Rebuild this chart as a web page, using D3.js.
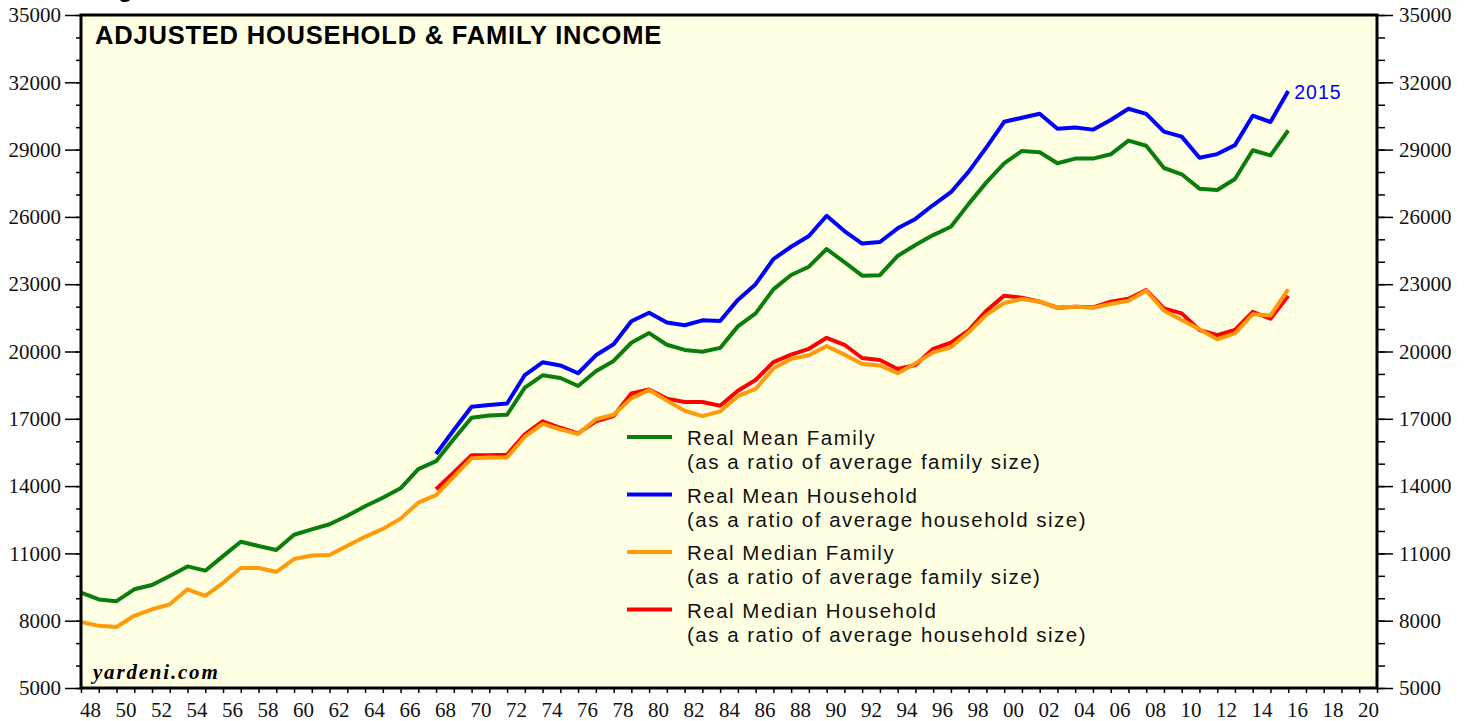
<!DOCTYPE html>
<html>
<head>
<meta charset="utf-8">
<script src="https://cdn.jsdelivr.net/npm/d3@7"></script>
<style>
  body { margin: 0; background: #ffffff; }
  svg { display: block; }
</style>
</head>
<body>
<div id="chart"><svg></svg></div>
<script>
// years for the two long series (1947-2015) and the two short ones (1967-2015)
var yearsLong = d3.range(1947, 2016);
var yearsShort = d3.range(1967, 2016);

// Real Mean Family (as a ratio of average family size)
var meanFamily = [9250, 8950, 8870, 9400, 9590, 9990, 10420, 10230, 10880, 11520,
    11330, 11150, 11830, 12070, 12300, 12680, 13100, 13480, 13900, 14760,
    15110, 16100, 17050, 17150, 17180, 18390, 18940, 18820, 18460, 19120,
    19580, 20390, 20820, 20300, 20070, 19990, 20160, 21120, 21700, 22770,
    23410, 23780, 24570, 23980, 23380, 23400, 24260, 24750, 25190, 25560,
    26580, 27540, 28390, 28940, 28880, 28390, 28600, 28600, 28790, 29400,
    29170, 28180, 27900, 27260, 27200, 27690, 28970, 28740, 29850];

// Real Mean Household (as a ratio of average household size)
var meanHousehold = [15430, 16500, 17540, 17610, 17680, 18950, 19520, 19380, 19030, 19830,
    20320, 21350, 21730, 21290, 21170, 21390, 21360, 22300, 23000, 24120,
    24670, 25150, 26050, 25370, 24810, 24880, 25490, 25910, 26530, 27100,
    28020, 29100, 30240, 30420, 30600, 29930, 29990, 29890, 30320, 30820,
    30590, 29800, 29580, 28640, 28800, 29200, 30510, 30230, 31610];

// Real Median Family (as a ratio of average family size)
var medianFamily = [7940, 7770, 7720, 8220, 8510, 8730, 9400, 9110, 9690, 10350,
    10350, 10180, 10750, 10910, 10930, 11340, 11740, 12090, 12550, 13260,
    13600, 14420, 15240, 15270, 15280, 16200, 16770, 16530, 16320, 16980,
    17180, 17910, 18280, 17810, 17360, 17120, 17330, 18010, 18330, 19250,
    19670, 19830, 20240, 19860, 19440, 19380, 19030, 19470, 19960, 20190,
    20860, 21630, 22160, 22340, 22220, 21950, 22000, 21950, 22120, 22260,
    22710, 21820, 21400, 20990, 20540, 20810, 21660, 21610, 22770];

// Real Median Household (as a ratio of average household size)
var medianHousehold = [13860, 14610, 15380, 15380, 15400, 16310, 16890, 16600, 16350, 16890,
    17120, 18130, 18310, 17900, 17750, 17750, 17580, 18250, 18730, 19530,
    19860, 20120, 20610, 20300, 19710, 19620, 19220, 19400, 20120, 20390,
    20940, 21820, 22490, 22400, 22220, 21950, 22000, 21970, 22220, 22350,
    22740, 21920, 21700, 20960, 20730, 20960, 21770, 21460, 22480];

var legendLabels = [
    ["Real Mean Family", "(as a ratio of average family size)"],
    ["Real Mean Household", "(as a ratio of average household size)"],
    ["Real Median Family", "(as a ratio of average family size)"],
    ["Real Median Household", "(as a ratio of average household size)"]
];
var yTickValues = [5000, 8000, 11000, 14000, 17000, 20000, 23000, 26000, 29000, 32000, 35000];

var width = 1470, height = 721;
var margin = {top: 15, right: 93, bottom: 33, left: 81};
var plotW = width - margin.left - margin.right;
var plotH = height - margin.top - margin.bottom;

var svg = d3.select("#chart svg").attr("width", width).attr("height", height);
var g = svg.append("g").attr("transform", "translate(" + margin.left + "," + margin.top + ")");

// tick marks at year boundaries; a year's value sits at the end of that year
var x = d3.scaleLinear().domain([1948, 2021]).range([0, plotW]);
var y = d3.scaleLinear().domain([5000, 35000]).range([plotH, 0]);

g.append("rect")
    .attr("width", plotW).attr("height", plotH)
    .style("fill", "#ffffe4");

g.append("clipPath").attr("id", "clip")
    .append("rect").attr("width", plotW).attr("height", plotH);

var serif = "'Liberation Serif', 'Times New Roman', serif";
var sans = "'Liberation Sans', Arial, Helvetica, sans-serif";

// left axis
var yLeftMinor = g.append("g").call(d3.axisLeft(y).tickValues(d3.range(5000, 35001, 1000)).tickSize(5).tickFormat(""));
var yLeft = g.append("g").call(d3.axisLeft(y).tickValues(yTickValues).tickSize(16).tickPadding(4).tickFormat(d3.format("d")));
// right axis
var yRightMinor = g.append("g").attr("transform", "translate(" + plotW + ",0)")
    .call(d3.axisRight(y).tickValues(d3.range(5000, 35001, 1000)).tickSize(8).tickFormat(""));
var yRight = g.append("g").attr("transform", "translate(" + plotW + ",0)")
    .call(d3.axisRight(y).tickValues(yTickValues).tickSize(16).tickPadding(6).tickFormat(d3.format("d")));
// bottom axis: yearly ticks, labels every other year centred inside the year
var xTicks = g.append("g").attr("transform", "translate(0," + plotH + ")")
    .call(d3.axisBottom(x).tickValues(d3.range(1948, 2022)).tickSize(5).tickFormat(""));
var xLabels = g.append("g").attr("transform", "translate(0," + plotH + ")")
    .call(d3.axisBottom(x).tickValues(d3.range(1948, 2021, 2).map(function(d) { return d + 0.5; }))
        .tickSize(0).tickPadding(14)
        .tickFormat(function(d) { return d3.format("02d")(Math.floor(d) % 100); }));

[yLeftMinor, yLeft, yRightMinor, yRight, xTicks, xLabels].forEach(function(a) {
    a.select(".domain").remove();
    a.selectAll("line").style("stroke", "#000").style("stroke-width", 1.5);
    a.selectAll("text").style("font-family", serif).style("font-size", "21px").style("fill", "#111");
});
xLabels.selectAll("text").attr("dy", "0.71em");

// the series
var series = [
    {years: yearsLong, values: meanFamily, color: "#0a7d0a"},
    {years: yearsShort, values: meanHousehold, color: "#0000ff"},
    {years: yearsShort, values: medianHousehold, color: "#ff0000"},
    {years: yearsLong, values: medianFamily, color: "#ff9b0a"}
];

var line = d3.line()
    .x(function(d) { return x(d[0] + 1); })
    .y(function(d) { return y(d[1]); });

var lines = g.append("g").attr("clip-path", "url(#clip)");
series.forEach(function(s) {
    lines.append("path")
        .datum(d3.zip(s.years, s.values))
        .attr("d", line)
        .style("fill", "none")
        .style("stroke", s.color)
        .style("stroke-width", 4)
        .style("stroke-linejoin", "round");
});

// last point label
g.append("text")
    .attr("x", x(yearsShort[yearsShort.length - 1] + 1) + 6)
    .attr("y", y(meanHousehold[meanHousehold.length - 1]) + 8)
    .text("2015")
    .style("font-family", sans).style("font-size", "19.5px").style("letter-spacing", "1px").style("fill", "#0000ff");

// frame
g.append("rect")
    .attr("width", plotW).attr("height", plotH)
    .style("fill", "none").style("stroke", "#000").style("stroke-width", 3);

// title
g.append("text")
    .attr("x", 14).attr("y", 29)
    .text("ADJUSTED HOUSEHOLD & FAMILY INCOME")
    .style("font-family", sans).style("font-weight", "bold").style("font-size", "25.5px")
    .style("letter-spacing", "0.8px").style("fill", "#000");

// cut-off heading above the chart
svg.append("text")
    .attr("x", 118).attr("y", -3)
    .text("g")
    .style("font-family", sans).style("font-weight", "bold").style("font-size", "24px");

g.append("text")
    .attr("x", 12).attr("y", 664)
    .text("yardeni.com")
    .style("font-family", serif).style("font-weight", "bold").style("font-style", "italic")
    .style("font-size", "21px").style("letter-spacing", "1.8px").style("fill", "#000");

// legend
var legendColors = ["#0a7d0a", "#0000ff", "#ff9b0a", "#ff0000"];
var legend = g.append("g").attr("transform", "translate(546,422)");
legendLabels.forEach(function(lbl, i) {
    var row = legend.append("g").attr("transform", "translate(0," + (i * 57.5) + ")");
    row.append("line")
        .attr("x1", 0).attr("x2", 45).attr("y1", 0).attr("y2", 0)
        .style("stroke", legendColors[i]).style("stroke-width", 4);
    row.append("text").attr("x", 60).attr("y", 8).text(lbl[0])
        .style("font-family", sans).style("font-size", "20.5px").style("letter-spacing", "1.5px").style("fill", "#111");
    row.append("text").attr("x", 60).attr("y", 32).text(lbl[1])
        .style("font-family", sans).style("font-size", "20.5px").style("letter-spacing", "1.5px").style("fill", "#111");
});
</script>
</body>
</html>
